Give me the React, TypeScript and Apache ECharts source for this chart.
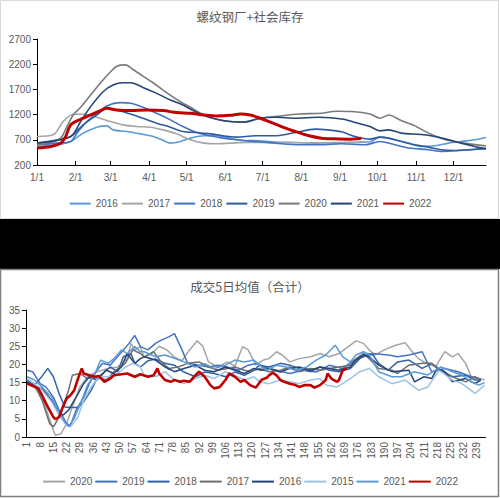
import React, { useEffect, useRef } from 'react';
import * as echarts from 'echarts';

// ---------- Top chart: 螺纹钢厂+社会库存 (x = day of year, y = stock) ----------
const TOP_TITLE = '螺纹钢厂+社会库存';
const TOP_YEARS = ['2016', '2017', '2018', '2019', '2020', '2021', '2022'];
const TOP_COLORS = ['#5B9BD5', '#A5A5A5', '#4472C4', '#2E5C9E', '#7A7A7A', '#264478', '#C00000'];
const TOP_TICK_DAYS = [0, 31, 59, 90, 120, 151, 181, 212, 243, 273, 304, 334];
const TOP_TICK_LABELS = ['1/1', '2/1', '3/1', '4/1', '5/1', '6/1', '7/1', '8/1', '9/1', '10/1', '11/1', '12/1'];
const TOP_Y_TICKS = [200, 700, 1200, 1700, 2200, 2700];

const S2016 = [[0,568],[16,601],[27,667],[37,832],[48,950],[56,976],[61,897],[72,865],[83,818],[91,779],[99,713],[107,634],[115,667],[123,733],[134,779],[144,779],[155,733],[166,680],[175,687],[191,654],[207,647],[223,634],[239,647],[255,647],[267,661],[275,753],[287,700],[298,634],[308,568],[319,582],[330,634],[340,667],[351,700],[360,746]];
const S2017 = [[0,766],[13,799],[21,1062],[29,1207],[37,1207],[48,1147],[59,1062],[69,996],[80,963],[91,950],[101,897],[112,818],[123,700],[134,634],[144,621],[155,634],[168,647],[179,647],[191,640],[207,640],[223,640],[239,634],[255,650],[263,667]];
const S2018 = [[0,601],[16,634],[27,667],[32,832],[40,1062],[48,1226],[56,1371],[67,1437],[75,1424],[85,1345],[96,1226],[107,1095],[117,963],[128,845],[139,779],[149,733],[160,700],[175,667],[191,634],[210,601],[228,601],[244,621],[263,601],[275,667],[287,601],[298,536],[314,503],[324,470],[335,483],[348,503],[360,522]];
const S2019 = [[0,634],[16,700],[27,766],[37,996],[48,1193],[56,1325],[64,1292],[75,1213],[85,1128],[96,1029],[107,950],[117,865],[128,845],[139,818],[149,779],[160,753],[175,779],[191,779],[207,845],[223,911],[233,897],[244,858],[255,766],[267,713],[275,753],[282,733],[292,667],[303,601],[314,555],[324,503],[335,489],[345,503],[360,529]];
const S2020 = [[0,601],[11,647],[19,733],[24,963],[29,1193],[35,1345],[43,1588],[51,1832],[59,2049],[64,2161],[71,2187],[77,2095],[85,1963],[93,1832],[101,1687],[112,1503],[123,1345],[134,1193],[144,1108],[155,1062],[166,1055],[179,1128],[191,1161],[210,1213],[228,1226],[240,1266],[252,1260],[267,1213],[275,1128],[282,1193],[292,1082],[303,976],[314,832],[324,733],[335,667],[348,615],[360,582]];
const S2021 = [[0,634],[27,766],[35,1062],[43,1358],[53,1654],[61,1786],[69,1832],[75,1832],[85,1740],[96,1621],[107,1489],[117,1391],[126,1270],[136,1161],[144,1108],[155,1062],[166,1049],[179,1128],[191,1147],[207,1128],[226,1147],[246,1108],[255,1042],[267,963],[275,878],[282,897],[292,832],[308,805],[319,766],[330,700],[340,634],[351,568],[360,522]];
const S2022 = [[0,536],[11,568],[19,634],[23,766],[27,996],[35,1108],[43,1193],[51,1279],[56,1325],[64,1292],[75,1279],[88,1292],[101,1279],[112,1240],[123,1226],[134,1193],[144,1174],[155,1187],[163,1213],[171,1193],[179,1128],[186,1062],[196,963],[207,865],[218,779],[228,733],[239,720],[250,713],[260,733]];
const TOP_SERIES = [S2016, S2017, S2018, S2019, S2020, S2021, S2022];

// ---------- Bottom chart: 成交5日均值（合计） ----------
const BOT_TITLE = '成交5日均值（合计）';
const BOT_CATS = Array.from({ length: 243 }, (_, i) => String(i + 1));
const BOT_YEARS = ['2020', '2019', '2018', '2017', '2016', '2015', '2021', '2022'];
const BOT_COLORS = ['#A5A5A5', '#4472C4', '#2F65A8', '#6E6E6E', '#264478', '#9DC3E6', '#5B9BD5', '#C00000'];

const B2020 = [[0,15.7],[4,13.8],[8,11],[11,6.4],[14,1.8],[15,0.5],[18,0.9],[21,3.7],[24,8.3],[28,13.8],[32,16.6],[37,18],[43,18.9],[48,19.3],[53,21.6],[55,25.8],[57,24],[60,24.9],[62,22],[66,23],[70,25],[74,24],[78,22],[82,21],[86,24],[90,26.5],[93,25],[96,20.7],[101,19.3],[106,20.7],[110,19.5],[114,24.9],[117,24],[121,19.8],[125,21.2],[128,21.6],[132,23.5],[135,22.6],[139,20.7],[144,21.6],[150,22.1],[155,23],[160,22.1],[165,23],[171,25.3],[174,26.5],[178,25.8],[181,24],[184,22.6],[189,24],[195,25.3],[200,26],[203,24],[207,21.6],[210,20.7],[216,19.3],[221,23.5],[225,22.1],[228,23],[232,20.3],[235,16.6],[239,16.1],[242,15.8]];
const B2019 = [[0,18.4],[3,18],[7,14.7],[10,13.8],[14,11],[17,7.4],[21,3.7],[23,3.2],[26,7.4],[30,11],[33,14.7],[37,18.4],[40,20.3],[44,19.8],[47,21.6],[51,24],[54,25.8],[57,28],[60,24.9],[64,24],[68,25.8],[71,26.7],[75,27.6],[78,28.5],[82,24],[85,20.3],[91,19.8],[96,19.3],[101,19.8],[106,19.3],[112,18.4],[117,19.8],[122,20.3],[125,19.3],[132,18.4],[139,17.5],[146,18.4],[153,17.9],[160,19.8],[167,18.9],[173,21.2],[178,22.1],[183,23],[192,22.5],[196,22.1],[202,22.6],[209,23.5],[214,18],[221,18.9],[228,18],[235,16.6],[240,16]];
const B2018 = [[0,15.7],[4,14.3],[7,16.1],[11,18.9],[14,16.6],[17,12],[20,8.3],[23,8.1],[27,8.1],[30,9.7],[34,12.9],[37,16.1],[41,18],[44,19.3],[48,18],[51,22.1],[55,23],[57,20.3],[60,19.3],[64,21],[68,21.5],[73,20.3],[78,19.8],[83,17.9],[89,16.6],[94,17.9],[99,17.5],[105,16.6],[110,17.9],[115,17],[120,18.4],[123,19.8],[128,19.3],[134,20.3],[139,19.8],[144,18.9],[150,18],[155,19.3],[160,18.4],[165,18],[171,18.9],[176,21.6],[180,23],[183,22.6],[186,20.3],[191,18.4],[196,20.7],[202,21.2],[209,18.9],[214,20.3],[219,18.4],[225,16.6],[232,17],[237,15.7],[240,15.7]];
const B2017 = [[0,14.7],[4,14.3],[8,10.1],[12,3.7],[14,2.8],[16,4.6],[19,8.3],[22,12.9],[24,17],[28,17.5],[32,16.1],[37,16.6],[42,15.7],[46,18],[52,20.3],[56,24],[60,23],[62,22.1],[67,23.5],[71,20.7],[75,18.9],[80,19.3],[85,20.3],[91,20.7],[96,19.3],[101,18.4],[106,18.9],[110,19.3],[115,18.4],[118,18],[123,18.9],[128,18],[134,18.4],[139,19.3],[144,18],[150,18.9],[155,18.4],[160,18.9],[165,19.3],[171,19.8],[174,21.6],[178,23],[181,21.6],[186,18.9],[193,18.4],[196,17.5],[202,19.8],[209,20.3],[214,20.3],[219,18],[225,16.6],[232,15.2],[237,16.6],[240,15.7]];
const B2016 = [[0,15.2],[4,13.8],[8,13.4],[13,10.1],[16,7.4],[19,6],[22,7.4],[26,11],[30,14.7],[33,16.6],[37,15.7],[42,18.4],[46,17.5],[50,19.3],[53,23],[57,20.3],[60,21.6],[62,22.1],[68,21.2],[73,19.3],[78,18],[83,18.9],[89,19.8],[94,18.4],[99,18],[105,19.3],[110,18.4],[115,17.5],[120,18.9],[124,18.4],[128,18.9],[134,17.9],[139,18.9],[144,19.3],[150,18.4],[155,19.3],[160,18.9],[165,18.4],[171,19.3],[174,21.2],[178,22.6],[181,22.1],[186,19.8],[193,18],[202,18.4],[205,15.2],[210,16.6],[214,16.1],[217,18.9],[221,18],[225,15.2],[232,16.1],[237,14.7],[240,15.7]];
const B2015 = [[0,16.1],[4,14.7],[8,12.9],[13,9.7],[17,6],[21,3.2],[23,2.8],[27,5.5],[30,10.1],[34,13.8],[38,16.6],[43,16.6],[47,17],[52,19.3],[56,20.3],[60,19.3],[62,17],[68,16.6],[73,18],[78,15.7],[83,14.7],[89,16.1],[94,17],[99,16.1],[105,18],[110,17],[115,15.7],[120,16.6],[123,15.2],[128,14.7],[134,15.7],[139,15.2],[144,14.7],[150,15.7],[155,16.1],[158,14.3],[164,13.8],[167,14.7],[171,16.1],[176,18],[181,18.9],[186,16.6],[193,14.7],[200,15.7],[207,12.9],[212,13.8],[218,18.4],[225,15.7],[230,14.7],[237,12],[240,13.4],[242,14.3]];
const B2021 = [[0,16.6],[4,15.7],[8,13.8],[13,11],[16,7.8],[20,4.1],[22,2.9],[25,5.1],[29,10.1],[32,14.3],[36,17.5],[39,21.2],[43,20.3],[46,21.6],[50,24],[53,23],[57,24.9],[60,23.5],[62,23.5],[68,22.1],[73,22.6],[78,21.7],[83,20.7],[89,19.3],[94,20.2],[99,18.9],[105,19.8],[110,21.2],[115,20.7],[120,21.2],[124,19.3],[127,18.4],[132,19.8],[137,19.3],[142,18.4],[148,19.3],[153,21.2],[158,22.6],[163,25.3],[167,22.1],[171,20.7],[174,22.6],[178,23.5],[181,22.6],[186,18],[193,16.6],[198,16.6],[205,18],[212,17.1],[219,19.3],[225,18],[230,17.1],[235,15.2],[239,14.3],[242,15]];
const B2022 = [[0,14.7],[2,14.3],[6,13.4],[8,11.5],[11,8.3],[14,5.5],[15,4.9],[17,5.5],[19,8.3],[21,10.6],[23,11.5],[25,12.9],[27,16.1],[29,18.9],[30,17.5],[33,17],[36,16.6],[38,16.8],[41,15.2],[44,16.1],[46,17],[50,17.3],[53,17.5],[57,16.6],[60,17.3],[64,16.6],[67,17],[69,18.9],[70,17.5],[73,15.7],[76,15.2],[78,15.7],[81,15.2],[83,15.5],[86,15.2],[89,17],[91,18],[94,16.6],[97,14.3],[99,13.4],[102,13.8],[105,15.7],[107,17.5],[110,16.6],[113,15.2],[115,15.7],[118,14.3],[121,13.6],[124,15.7],[127,16.4],[128,17],[130,17.7],[132,17],[134,15.7],[136,15.2],[139,14.7],[142,14.3],[144,13.8],[147,14.3],[150,14.3],[152,13.6],[155,14.3],[158,15.7],[159,17.5],[161,16.1],[164,15.2],[165,15.7],[167,18.4],[169,18.9]];
const BOT_SERIES = [B2020, B2019, B2018, B2017, B2016, B2015, B2021, B2022];

const NUM_FONT = "'Liberation Sans', 'Noto Sans', sans-serif";
const CJK_FONT = "'Noto Sans CJK SC', sans-serif";
const LABEL_COLOR = '#595959';

export default function App() {
  const ref = useRef<HTMLDivElement>(null);
  useEffect(() => {
    if (!ref.current) return;
    const chart = echarts.init(ref.current, undefined, { renderer: 'svg' });
    const topSeries = TOP_YEARS.map((y, k) => ({
      name: 't' + y,
      type: 'line',
      xAxisIndex: 0,
      yAxisIndex: 0,
      data: TOP_SERIES[k],
      symbol: 'none',
      smooth: 0.3,
      color: TOP_COLORS[k],
      lineStyle: { color: TOP_COLORS[k], width: y === '2022' ? 3 : 1.6 },
      z: y === '2022' ? 5 : 2,
    }));
    const botSeries = BOT_YEARS.map((y, k) => ({
      name: 'b' + y,
      type: 'line',
      xAxisIndex: 1,
      yAxisIndex: 1,
      data: BOT_SERIES[k],
      symbol: 'none',
      color: BOT_COLORS[k],
      lineStyle: { color: BOT_COLORS[k], width: y === '2022' ? 2.6 : 1.5 },
      z: y === '2022' ? 5 : 2,
    }));
    const legendBase = {
      left: 'center',
      itemHeight: 14,
      itemStyle: { opacity: 0 },
      formatter: (n: string) => n.slice(1),
      textStyle: { fontFamily: NUM_FONT, fontSize: 10, color: LABEL_COLOR },
    };
    const option: any = {
      animation: false,
      backgroundColor: '#ffffff',
      graphic: [
        { type: 'rect', shape: { x: 0.5, y: 0.5, width: 498, height: 218 }, style: { fill: 'none', stroke: '#D9D9D9', lineWidth: 1 }, silent: true },
        { type: 'rect', shape: { x: 0, y: 219, width: 500, height: 50 }, style: { fill: '#000000' }, silent: true },
        { type: 'rect', shape: { x: 0.5, y: 269.5, width: 498, height: 227 }, style: { fill: 'none', stroke: '#7F7F7F', lineWidth: 1.5 }, silent: true },
      ],
      title: [
        { text: TOP_TITLE, left: 'center', top: 5, textStyle: { fontFamily: CJK_FONT, fontSize: 12.5, fontWeight: 'normal', color: LABEL_COLOR } },
        { text: BOT_TITLE, left: 'center', top: 275, textStyle: { fontFamily: CJK_FONT, fontSize: 12.5, fontWeight: 'normal', color: LABEL_COLOR } },
      ],
      legend: [
        { ...legendBase, data: TOP_YEARS.map((y) => 't' + y), top: 193, itemWidth: 21, itemGap: 3 },
        { ...legendBase, data: BOT_YEARS.map((y) => 'b' + y), top: 471, itemWidth: 22, itemGap: 2 },
      ],
      grid: [
        { left: 37, top: 39, width: 449, height: 126, containLabel: false },
        { left: 26, top: 310, width: 459.5, height: 127, containLabel: false },
      ],
      xAxis: [
        {
          gridIndex: 0,
          type: 'value',
          min: 0,
          max: 360,
          splitLine: { show: false },
          axisLine: { lineStyle: { color: '#000', width: 1 } },
          axisTick: { customValues: TOP_TICK_DAYS, inside: true, length: 4, lineStyle: { color: '#000' } },
          axisLabel: {
            customValues: TOP_TICK_DAYS,
            formatter: (v: number) => {
              const idx = TOP_TICK_DAYS.indexOf(Math.round(v));
              return idx >= 0 ? TOP_TICK_LABELS[idx] : '';
            },
            margin: 7,
            fontFamily: NUM_FONT,
            fontSize: 10,
            color: LABEL_COLOR,
          },
        },
        {
          gridIndex: 1,
          type: 'category',
          data: BOT_CATS,
          boundaryGap: true,
          axisLine: { lineStyle: { color: '#000', width: 1 } },
          axisTick: { interval: 1, inside: true, length: 3, lineStyle: { color: '#000' } },
          axisLabel: {
            interval: 6,
            rotate: 90,
            margin: 5,
            fontFamily: NUM_FONT,
            fontSize: 10,
            color: LABEL_COLOR,
          },
          splitLine: { show: false },
        },
      ],
      yAxis: [
        {
          gridIndex: 0,
          type: 'value',
          min: 200,
          max: 2700,
          splitLine: { show: false },
          axisLine: { show: true, lineStyle: { color: '#000', width: 1 } },
          axisTick: { show: true, customValues: TOP_Y_TICKS, length: 4, lineStyle: { color: '#000' } },
          axisLabel: {
            customValues: TOP_Y_TICKS,
            formatter: (v: number) => String(Math.round(v)),
            margin: 6,
            fontFamily: NUM_FONT,
            fontSize: 10,
            color: LABEL_COLOR,
          },
        },
        {
          gridIndex: 1,
          type: 'value',
          min: 0,
          max: 35,
          interval: 5,
          splitLine: { show: false },
          axisLine: { show: true, lineStyle: { color: '#000', width: 1 } },
          axisTick: { show: true, length: 4, lineStyle: { color: '#000' } },
          axisLabel: { margin: 6, fontFamily: NUM_FONT, fontSize: 10, color: LABEL_COLOR },
        },
      ],
      series: [...topSeries, ...botSeries],
    };
    chart.setOption(option);
    return () => chart.dispose();
  }, []);
  return (
    <div
      ref={ref}
      style={{ position: 'fixed', left: 0, top: 0, width: 500, height: 498, background: '#fff' }}
    />
  );
}
